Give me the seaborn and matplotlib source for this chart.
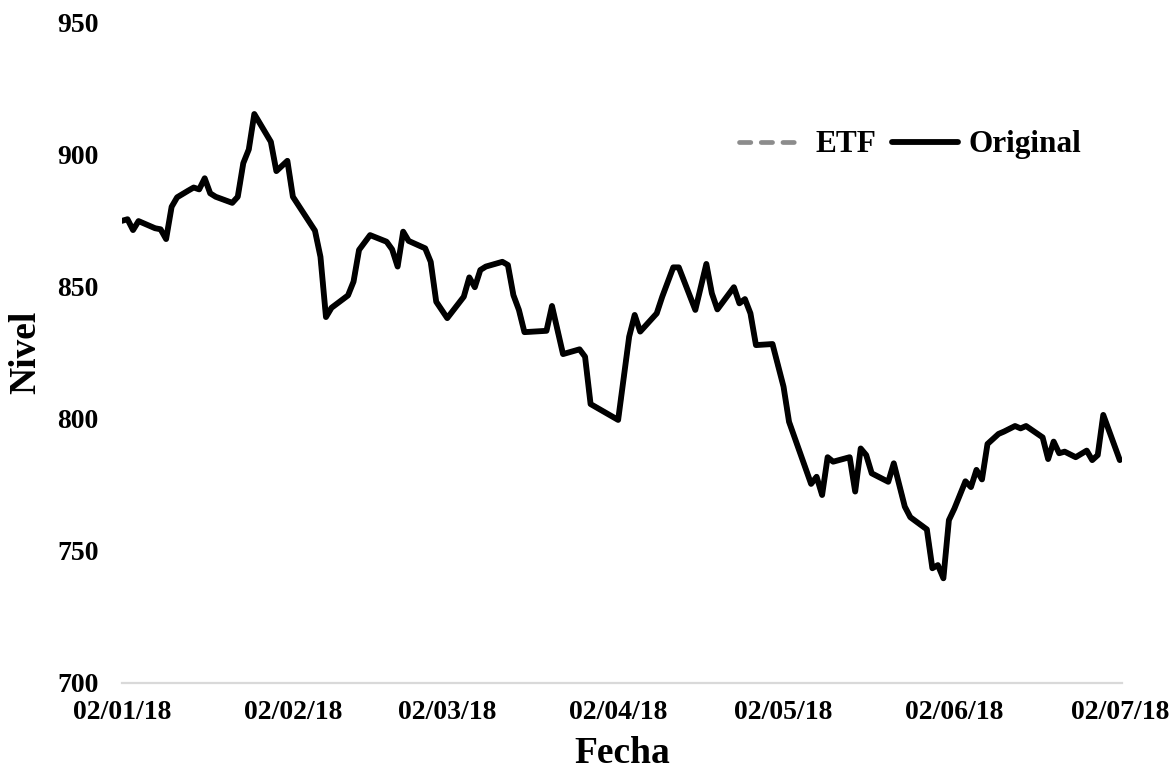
import matplotlib
matplotlib.use("Agg")
import matplotlib.pyplot as plt
import seaborn as sns
import pandas as pd

# ---- data ----
day_offsets = [0, 1, 2, 3, 6, 7, 8, 9, 10, 12, 13, 14, 15, 16, 17, 20, 21, 22, 23, 24,
               27, 28, 30, 31, 35, 36, 37, 38, 41, 42, 43, 45, 48, 49, 50, 51, 52, 55,
               56, 57, 59, 62, 63, 64, 65, 66, 69, 70, 71, 72, 73, 77, 78, 80, 83, 84,
               85, 90, 92, 93, 94, 97, 98, 100, 101, 104, 106, 107, 108, 111, 112, 113,
               114, 115, 118, 120, 121, 125, 126, 127, 128, 129, 132, 133, 134, 135,
               136, 139, 140, 142, 143, 146, 147, 148, 149, 150, 151, 153, 154, 155,
               156, 157, 159, 160, 162, 163, 164, 167, 168, 169, 170, 171, 173, 175,
               176, 177, 178, 181]
original = [874.8, 875.4, 871.3, 874.7, 872.0, 871.6, 867.9, 880.1, 883.7, 886.2,
            887.4, 886.7, 890.9, 885.2, 883.9, 881.6, 883.9, 896.6, 901.8, 915.2,
            904.7, 893.6, 897.5, 883.9, 871.1, 861.2, 838.4, 841.9, 846.6, 851.8,
            863.8, 869.4, 866.9, 864.0, 857.5, 870.7, 867.2, 864.4, 859.3, 844.2,
            838.0, 846.1, 853.4, 849.7, 856.2, 857.5, 859.3, 858.1, 846.7, 841.1,
            832.7, 833.2, 842.6, 824.4, 826.2, 823.4, 805.5, 799.5, 831.0, 839.2,
            832.9, 839.8, 846.1, 857.2, 857.2, 841.1, 858.5, 847.4, 841.3, 849.7,
            843.6, 845.2, 839.8, 827.8, 828.2, 812.1, 798.8, 775.3, 778.0, 771.1,
            785.4, 783.7, 785.4, 772.4, 788.7, 786.2, 779.3, 776.1, 783.1, 766.7,
            762.7, 758.1, 743.4, 744.6, 739.6, 761.6, 766.0, 776.3, 774.1, 780.6,
            777.0, 790.4, 794.2, 795.1, 797.2, 796.3, 797.2, 792.9, 784.7, 791.3,
            786.9, 787.5, 785.4, 787.9, 784.3, 786.2, 801.4, 784.3]
etf = list(original)  # ETF series coincides with (hidden behind) the original
tick_labels = ["02/01/18", "02/02/18", "02/03/18", "02/04/18", "02/05/18", "02/06/18", "02/07/18"]
y_ticks = [700, 750, 800, 850, 900, 950]

start = pd.Timestamp("2018-01-02")
dates = [start + pd.Timedelta(days=d) for d in day_offsets]
df = pd.DataFrame({"Fecha": dates, "ETF": etf, "Original": original})

sns.set_theme(style="white")
plt.rcParams["font.family"] = ["Liberation Serif", "DejaVu Serif"]
plt.rcParams["font.weight"] = "bold"
plt.rcParams["text.color"] = "black"
plt.rcParams["axes.labelcolor"] = "black"
plt.rcParams["xtick.color"] = "black"
plt.rcParams["ytick.color"] = "black"

fig = plt.figure(figsize=(11.74, 7.78), dpi=100)
ax = fig.add_axes([122 / 1174, 1 - 683 / 778, 1000 / 1174, (683 - 22) / 778])

sns.lineplot(data=df, x="Fecha", y="ETF", ax=ax, color="#8c8c8c", linewidth=3.4,
             label="ETF")
ax.lines[-1].set_linestyle((0, (2.4, 2.2)))
ax.lines[-1].set_dash_capstyle("round")
sns.lineplot(data=df, x="Fecha", y="Original", ax=ax, color="black", linewidth=4.2,
             label="Original")

ax.set_ylim(700, 950)
ax.set_yticks(y_ticks)
tick_dates = [pd.Timestamp(f"20{t[6:8]}-{t[3:5]}-{t[0:2]}") for t in tick_labels]
ax.set_xlim(tick_dates[0], tick_dates[-1] + pd.Timedelta(days=0.4))
ax.set_xticks(tick_dates)
ax.set_xticklabels(tick_labels)

for s in ["top", "right", "left"]:
    ax.spines[s].set_visible(False)
ax.spines["bottom"].set_color("#d9d9d9")
ax.spines["bottom"].set_linewidth(1.6)
ax.tick_params(axis="both", length=0, labelsize=20, labelcolor="black")
ax.tick_params(axis="x", pad=12)
ax.tick_params(axis="y", pad=17)
for lab in ax.get_xticklabels() + ax.get_yticklabels():
    lab.set_fontweight("bold")

ax.set_xlabel("Fecha", fontsize=27, fontweight="bold", labelpad=8, color="black")
ax.set_ylabel("Nivel", fontsize=27, fontweight="bold", labelpad=10, color="black")
ax.grid(False)

leg = ax.legend(loc="center", bbox_to_anchor=(0.788, 0.814), ncol=2, frameon=False,
                prop={"size": 22.5, "weight": "bold"}, handlelength=2.1,
                handletextpad=0.35, columnspacing=0.5, borderpad=0)
for t in leg.get_texts():
    t.set_color("black")

fig.savefig("out.png", dpi=100)
